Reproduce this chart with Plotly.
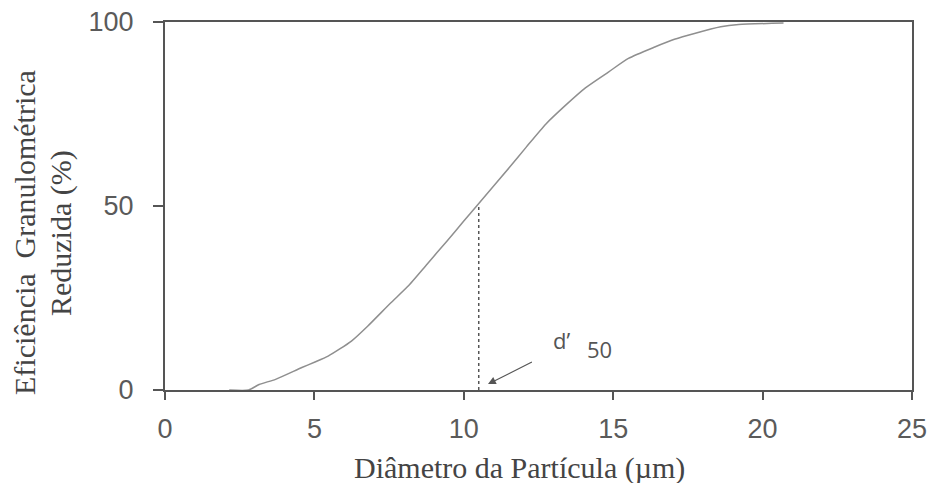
import plotly.graph_objects as go

# Data
diametro = [2.15, 2.8, 3.15, 3.7, 4.58, 5.02, 5.46, 6.24, 6.79, 7.56, 8.12, 8.77,
            9.44, 10.0, 10.43, 11.53, 12.09, 12.75, 13.41, 14.07, 14.84, 15.51,
            16.39, 17.05, 17.72, 18.6, 19.2, 20.7]
eficiencia = [0, 0, 1.5, 2.9, 6.1, 7.6, 9.2, 13.3, 17.4, 23.7, 28.1, 34.2,
              40.5, 45.9, 50.0, 60.5, 66.0, 72.3, 77.4, 82.1, 86.4, 90.1,
              93.2, 95.3, 96.9, 98.7, 99.3, 99.7]
d50_x = [10.5, 10.5]
d50_y = [0, 50]
x_ticks = [0, 5, 10, 15, 20, 25]
y_ticks = [0, 50, 100]

fig = go.Figure()
fig.add_trace(go.Scatter(x=diametro, y=eficiencia, mode="lines",
                         line=dict(color="#8f8f8f", width=1.5, shape="spline", smoothing=0.6),
                         showlegend=False, hoverinfo="skip"))
fig.add_trace(go.Scatter(x=d50_x, y=d50_y, mode="lines",
                         line=dict(color="#555555", width=1.5, dash="dot"),
                         showlegend=False, hoverinfo="skip"))

fig.add_annotation(x=10.81, y=1.6, ax=12.33, ay=7.8, axref="x", ayref="y",
                   xref="x", yref="y", text="", showarrow=True,
                   arrowhead=2, arrowsize=1.3, arrowwidth=1.2, arrowcolor="#555555")
label_font = dict(family="Open Sans", size=22, color="#555555")
fig.add_annotation(x=12.93, y=13.7, xref="x", yref="y", xanchor="left", yanchor="middle",
                   text="d’", showarrow=False, font=label_font)
fig.add_annotation(x=14.06, y=11.2, xref="x", yref="y", xanchor="left", yanchor="middle",
                   text="50", showarrow=False, font=label_font)

# axis titles as annotations (placed off-centre as in the reference)
title_font = dict(family="Liberation Serif", size=30, color="#444444")
fig.add_annotation(x=-0.1888, y=0.4293, xref="paper", yref="paper", textangle=-90,
                   xanchor="center", yanchor="middle", showarrow=False,
                   text="Eficiência  Granulométrica", font=title_font)
fig.add_annotation(x=-0.1392, y=0.4266, xref="paper", yref="paper", textangle=-90,
                   xanchor="center", yanchor="middle", showarrow=False,
                   text="Reduzida (%)", font=title_font)
fig.add_annotation(x=0.4752, y=-0.212, xref="paper", yref="paper",
                   xanchor="center", yanchor="middle", showarrow=False,
                   text="Diâmetro da Partícula (µm)", font=title_font)

axis_common = dict(showgrid=False, zeroline=False, showline=True, mirror=True,
                   linecolor="#555555", linewidth=2, ticks="outside",
                   tickwidth=1.5, tickcolor="#555555", automargin=False,
                   ticklabeloverflow="allow",
                   tickfont=dict(family="Liberation Sans", size=27, color="#5a5a5a"))

fig.update_xaxes(range=[0, 25], tickvals=x_ticks, ticktext=[str(v) for v in x_ticks],
                 ticklen=8, ticklabelstandoff=6, **axis_common)
fig.update_yaxes(range=[0, 100], tickvals=y_ticks, ticktext=[str(v) for v in y_ticks],
                 ticklen=10, ticklabelstandoff=14, **axis_common)

fig.update_layout(width=941, height=483, plot_bgcolor="white", paper_bgcolor="white",
                  margin=dict(l=157, r=37, t=14, b=101))

fig.write_html("out.html")
